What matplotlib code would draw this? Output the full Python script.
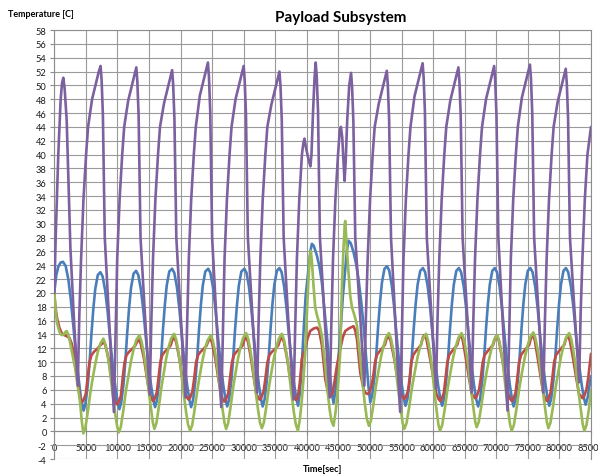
import matplotlib
matplotlib.use("Agg")
import matplotlib.pyplot as plt

# Payload subsystem thermal run: temperatures [C] vs. time [s]
# Each series is stored as (time, value) pairs, one row per orbit.

blue_t = [0, 320, 640, 1000, 1380, 1800, 2220, 2620, 3010, 3400, 3800, 4200, 4640,
          4940, 5290, 5590, 5890, 6190, 6490, 6890, 7300,
          7650, 8050, 8450, 8885, 9300, 9700, 10050, 10310,
          10610, 10960, 11260, 11560, 11860, 12160, 12560, 12950,
          13300, 13700, 14100, 14535, 14950, 15350, 15700, 15960,
          16260, 16610, 16910, 17210, 17510, 17810, 18210, 18660,
          19010, 19410, 19810, 20245, 20660, 21060, 21410, 21670,
          21970, 22320, 22620, 22920, 23220, 23520, 23920, 24370,
          24720, 25120, 25520, 25955, 26370, 26770, 27120, 27380,
          27680, 28030, 28330, 28630, 28930, 29230, 29630, 30100,
          30440, 30830, 31210, 31630, 32030, 32420, 32750, 33000,
          33300, 33650, 33950, 34250, 34550, 34850, 35250, 35660,
          36000, 36390, 36780, 37200, 37610, 38000, 38340, 38600,
          38900, 39200, 39470, 39800, 40260, 40550, 40790, 41100, 41590, 42000,
          42380, 42800, 43180, 43600, 43950, 44220,
          44550, 44900, 45280, 45700, 46080, 46350, 46600, 46950, 47390, 47800,
          48180, 48600, 48980, 49400, 49750, 50040,
          50340, 50690, 50990, 51290, 51590, 51890, 52290, 52700,
          53040, 53430, 53820, 54240, 54640, 55030, 55370, 55620,
          55930, 56300, 56610, 56920, 57230, 57540, 57960, 58380,
          58730, 59130, 59530, 59965, 60380, 60780, 61130, 61420,
          61720, 62070, 62370, 62670, 62970, 63270, 63670, 64080,
          64430, 64830, 65230, 65665, 66080, 66480, 66830, 67120,
          67420, 67770, 68070, 68370, 68670, 68970, 69370, 69760,
          70110, 70510, 70910, 71345, 71760, 72160, 72500, 72740,
          73040, 73390, 73690, 73990, 74290, 74590, 74990, 75400,
          75750, 76150, 76550, 76985, 77400, 77800, 78140, 78390,
          78690, 79040, 79340, 79640, 79940, 80240, 80640, 81030,
          81390, 81810, 82220, 82670, 83100, 83510, 83880, 84150,
          84450, 84800, 85000]
blue_v = [20.1, 22.6, 23.8, 24.4, 24.5, 23.9, 22.0, 19.0, 15.3, 11.5, 8.05, 4.9, 3.0,
          4.0, 6.6, 10.0, 14.2, 17.8, 20.6, 22.6, 23.0,
          22.4, 20.4, 17.3, 12.9, 9.1, 6.2, 4.2, 3.2,
          4.2, 6.8, 10.2, 14.4, 18.0, 20.8, 22.8, 23.2,
          22.6, 20.6, 17.5, 13.2, 9.4, 6.5, 4.5, 3.5,
          4.5, 7.1, 10.5, 14.7, 18.3, 21.1, 23.1, 23.5,
          22.9, 20.9, 17.7, 13.3, 9.5, 6.5, 4.5, 3.5,
          4.5, 7.1, 10.5, 14.7, 18.3, 21.1, 23.1, 23.5,
          22.9, 20.9, 17.7, 13.35, 9.6, 6.6, 4.6, 3.6,
          4.6, 7.2, 10.6, 14.7, 18.3, 21.1, 23.1, 23.5,
          22.9, 20.9, 17.7, 13.35, 9.6, 6.6, 4.6, 3.6,
          4.6, 7.2, 10.6, 14.8, 18.4, 21.2, 23.2, 23.6,
          23.0, 21.0, 17.8, 13.45, 9.7, 6.7, 4.7, 3.7,
          5.6, 9.6, 14.3, 19.5, 23.5, 26.0, 27.1, 26.8, 25.4, 23.8,
          21.5, 17.5, 13.8, 8.8, 5.5, 4.1,
          6.0, 9.5, 13.8, 19.5, 23.5, 26.2, 27.55, 27.2, 25.9, 24.2,
          22.0, 18.8, 15.3, 10.5, 6.5, 4.2,
          5.2, 7.7, 11.1, 15.2, 18.7, 21.5, 23.5, 23.85,
          23.25, 21.2, 18.0, 13.55, 9.75, 6.75, 4.7, 3.7,
          4.7, 7.3, 10.7, 14.8, 18.4, 21.2, 23.2, 23.6,
          23.0, 21.0, 17.8, 13.45, 9.7, 6.7, 4.7, 3.7,
          4.7, 7.3, 10.7, 14.8, 18.4, 21.2, 23.2, 23.6,
          23.0, 21.0, 17.8, 13.4, 9.6, 6.6, 4.6, 3.6,
          4.6, 7.2, 10.6, 14.8, 18.4, 21.2, 23.2, 23.6,
          23.0, 21.0, 17.8, 13.4, 9.6, 6.6, 4.6, 3.6,
          4.6, 7.2, 10.6, 14.8, 18.4, 21.2, 23.2, 23.6,
          23.0, 21.0, 17.8, 13.45, 9.7, 6.7, 4.7, 3.7,
          4.7, 7.3, 10.7, 14.8, 18.4, 21.2, 23.2, 23.6,
          23.0, 21.0, 17.9, 13.5, 9.8, 6.8, 4.8, 3.85,
          4.8, 6.9, 8.0]

red_t = [0, 200, 450, 800, 1170, 1600, 1965, 2400, 2750, 3280, 3800, 4100, 4340,
         4584, 4989, 5265, 5558, 5883, 6287, 6776, 7261, 7586, 7830,
         8133, 8588, 9041, 9420, 9692, 9890,
         10135, 10541, 10818, 11112, 11437, 11843, 12333, 12820, 13145, 13390,
         13715, 14203, 14689, 15096, 15388, 15600,
         15836, 16227, 16493, 16776, 17090, 17480, 17952, 18421, 18734, 18970,
         19304, 19805, 20305, 20722, 21022, 21240,
         21481, 21880, 22152, 22441, 22760, 23160, 23641, 24119, 24439, 24680,
         25006, 25497, 25985, 26394, 26687, 26900,
         27144, 27547, 27822, 28115, 28438, 28842, 29329, 29813, 30136, 30380,
         30690, 31156, 31621, 32009, 32287, 32490,
         32739, 33150, 33431, 33729, 34059, 34471, 34968, 35461, 35792, 36040,
         36374, 36875, 37375, 37792, 38092, 38310,
         38550, 38880, 39213, 39736, 40100, 40528, 41050, 41600, 41950, 42383,
         42906, 43350, 43600, 43800,
         44100, 44450, 44760, 45284, 45700, 46076, 46700, 47392, 47650, 47930,
         48454, 49000, 49350, 49640,
         49868, 50245, 50501, 50774, 51077, 51454, 51909, 52360, 52663, 52890,
         53263, 53825, 54384, 54851, 55186, 55430,
         55652, 56020, 56270, 56536, 56831, 57199, 57643, 58083, 58378, 58600,
         58966, 59516, 60064, 60522, 60851, 61090,
         61318, 61696, 61954, 62228, 62531, 62909, 63365, 63819, 64122, 64350,
         64685, 65189, 65691, 66110, 66411, 66630,
         66870, 67268, 67539, 67827, 68146, 68544, 69024, 69501, 69820, 70060,
         70410, 70936, 71459, 71897, 72212, 72440,
         72672, 73058, 73320, 73599, 73907, 74293, 74757, 75219, 75528, 75760,
         76086, 76577, 77065, 77474, 77767, 77980,
         78213, 78599, 78862, 79142, 79452, 79838, 80304, 80767, 81077, 81310,
         81653, 82167, 82680, 83109, 83416, 83640,
         83878, 84274, 84543, 84829, 85000]
red_v = [19.9, 17.8, 16.3, 15.0, 14.2, 13.9, 13.75, 13.5, 12.7, 10.5, 6.6, 4.8, 4.2,
         4.4, 5.4, 7.6, 9.9, 11.0, 11.5, 11.9, 12.4, 12.7, 13.0,
         12.3, 10.5, 7.6, 5.4, 4.2, 3.9,
         4.1, 5.1, 7.6, 9.9, 11.0, 11.5, 11.9, 12.4, 13.0, 13.3,
         12.6, 10.5, 7.6, 5.4, 4.7, 4.4,
         4.6, 5.6, 7.6, 9.9, 11.0, 11.5, 11.9, 12.4, 13.3, 13.6,
         12.9, 10.5, 7.6, 5.4, 4.9, 4.6,
         4.8, 5.8, 7.6, 9.9, 11.0, 11.5, 11.9, 12.4, 13.15, 13.45,
         12.75, 10.5, 7.6, 5.4, 4.6, 4.3,
         4.5, 5.5, 7.6, 9.9, 11.0, 11.5, 11.9, 12.4, 13.3, 13.6,
         12.9, 10.5, 7.6, 5.4, 4.9, 4.6,
         4.8, 5.8, 7.6, 9.9, 11.0, 11.5, 11.9, 12.4, 13.3, 13.6,
         12.9, 10.5, 7.6, 5.4, 4.8, 4.5,
         4.8, 7.0, 10.5, 11.9, 13.4, 14.5, 14.85, 15.0, 14.5, 12.4,
         7.6, 5.6, 5.2, 5.1,
         5.6, 7.6, 9.5, 11.9, 13.6, 14.5, 14.9, 15.2, 14.6, 13.35,
         8.5, 6.0, 5.5, 5.4,
         5.6, 6.6, 7.9, 9.9, 11.0, 11.5, 12.0, 12.5, 13.5, 13.8,
         13.1, 10.5, 7.6, 5.4, 5.0, 4.7,
         4.9, 5.9, 7.6, 9.9, 11.0, 11.5, 12.0, 12.5, 13.6, 13.9,
         13.2, 10.5, 7.6, 5.4, 4.7, 4.4,
         4.6, 5.6, 7.6, 9.9, 11.0, 11.5, 12.0, 12.5, 13.6, 13.9,
         13.2, 10.5, 7.6, 5.4, 5.1, 4.8,
         5.0, 6.0, 7.6, 9.9, 11.0, 11.5, 12.0, 12.5, 13.5, 13.8,
         13.1, 10.5, 7.6, 5.4, 4.7, 4.4,
         4.6, 5.6, 7.6, 9.9, 11.0, 11.5, 12.0, 12.5, 13.6, 13.9,
         13.2, 10.5, 7.6, 5.4, 4.7, 4.4,
         4.6, 5.6, 7.6, 9.9, 11.0, 11.5, 12.0, 12.5, 13.5, 13.8,
         13.1, 10.5, 7.6, 5.4, 5.1, 4.8,
         5.0, 6.0, 7.6, 9.9, 11.2]

green_t = [0, 200, 450, 800, 1170, 1500, 1800, 1965, 2200, 2490, 2900, 3280, 3700, 4073, 4350, 4600,
           4917, 5313, 5710, 6106, 6502, 6898, 7295, 7770,
           8087, 8404, 8721, 9038, 9355, 9672, 9957, 10210,
           10536, 10944, 11351, 11759, 12166, 12574, 12981, 13470,
           13787, 14104, 14421, 14738, 15055, 15372, 15620, 15850,
           16162, 16552, 16942, 17332, 17722, 18112, 18502, 18970,
           19287, 19604, 19921, 20238, 20555, 20872, 21190, 21510,
           21838, 22248, 22658, 23068, 23478, 23888, 24298, 24790,
           25107, 25424, 25741, 26058, 26375, 26692, 26960, 27210,
           27527, 27923, 28320, 28716, 29112, 29508, 29905, 30380,
           30697, 31014, 31331, 31648, 31965, 32282, 32580, 32870,
           33187, 33583, 33980, 34376, 34772, 35168, 35565, 36040,
           36357, 36674, 36991, 37308, 37625, 37942, 38260, 38580,
           38900, 39200, 39467, 39736, 40006, 40260, 40450, 40640, 40800, 41052,
           41322, 41600, 41845, 42100, 42383, 42800, 43200, 43600, 43900, 44220,
           44550, 44800, 45014, 45284, 45550, 45807, 46000, 46076, 46200, 46440,
           46868, 47150, 47392, 47650, 47931, 48300, 48723, 49150, 49500, 49830,
           50147, 50543, 50940, 51336, 51732, 52128, 52525, 53000,
           53317, 53634, 53951, 54268, 54585, 54902, 55170, 55430,
           55774, 56204, 56634, 57064, 57494, 57924, 58354, 58870,
           59155, 59441, 59726, 60011, 60297, 60582, 60838, 61090,
           61432, 61860, 62287, 62715, 63142, 63570, 63997, 64510,
           64827, 65144, 65461, 65778, 66095, 66412, 66660, 66890,
           67218, 67628, 68038, 68448, 68858, 69268, 69678, 70170,
           70463, 70756, 71050, 71343, 71636, 71929, 72190, 72440,
           72783, 73212, 73641, 74069, 74498, 74927, 75356, 75870,
           76187, 76504, 76821, 77138, 77455, 77772, 78020, 78250,
           78578, 78988, 79398, 79808, 80218, 80628, 81038, 81530,
           81847, 82164, 82481, 82798, 83115, 83432, 83700, 83960,
           84280, 84680, 85000]
green_v = [19.9, 17.6, 15.6, 14.4, 13.9, 14.0, 14.4, 14.5, 14.0, 12.9, 11.0, 9.2, 6.6, 4.3, 1.5, -0.3,
           0.5, 2.85, 5.6, 7.8, 9.8, 11.5, 12.7, 13.4,
           12.6, 11.2, 9.3, 6.9, 4.6, 2.4, 0.7, -0.15,
           0.65, 3.1, 5.9, 8.1, 10.25, 11.9, 13.2, 13.9,
           13.1, 11.7, 9.8, 7.4, 5.1, 2.9, 1.2, 0.35,
           1.15, 3.5, 6.25, 8.45, 10.55, 12.2, 13.4, 14.1,
           13.3, 11.8, 9.9, 7.4, 5.0, 2.75, 0.95, 0.1,
           0.9, 3.3, 6.0, 8.25, 10.3, 12.0, 13.2, 13.9,
           13.1, 11.7, 9.8, 7.4, 5.1, 2.9, 1.2, 0.35,
           1.15, 3.55, 6.3, 8.5, 10.6, 12.25, 13.5, 14.2,
           13.4, 11.95, 10.05, 7.6, 5.25, 3.05, 1.25, 0.45,
           1.25, 3.6, 6.3, 8.5, 10.55, 12.2, 13.4, 14.1,
           13.3, 11.8, 9.9, 7.4, 5.0, 2.75, 0.95, 0.1,
           1.8, 4.5, 7.6, 11.4, 17.2, 22.0, 25.0, 26.1, 24.5, 21.05,
           17.9, 16.8, 16.0, 15.0, 13.8, 10.5, 6.5, 3.2, 1.5, 0.8,
           2.8, 5.0, 7.6, 11.4, 21.0, 26.5, 30.0, 30.4, 28.5, 24.9,
           19.6, 17.9, 17.2, 16.4, 15.3, 11.8, 8.05, 4.2, 1.8, 0.8,
           1.55, 3.9, 6.55, 8.7, 10.7, 12.3, 13.55, 14.2,
           13.4, 11.95, 10.05, 7.55, 5.2, 3.0, 1.2, 0.35,
           1.15, 3.5, 6.25, 8.45, 10.55, 12.2, 13.4, 14.1,
           13.3, 11.8, 9.9, 7.4, 5.0, 2.75, 0.95, 0.1,
           0.9, 3.35, 6.15, 8.4, 10.55, 12.25, 13.5, 14.2,
           13.4, 12.0, 10.1, 7.65, 5.35, 3.2, 1.4, 0.6,
           1.35, 3.65, 6.3, 8.45, 10.45, 12.05, 13.25, 13.9,
           13.1, 11.65, 9.75, 7.3, 4.95, 2.7, 0.95, 0.1,
           0.9, 3.35, 6.2, 8.5, 10.6, 12.3, 13.6, 14.3,
           13.5, 12.05, 10.15, 7.65, 5.3, 3.1, 1.3, 0.45,
           1.25, 3.6, 6.35, 8.55, 10.65, 12.3, 13.5, 14.2,
           13.4, 11.9, 10.0, 7.45, 5.05, 2.8, 0.95, 0.1,
           0.9, 3.3, 6.0]

purple_t = [0, 220, 630, 1010, 1220, 1430, 1640, 1960, 2550, 3150,
            3720, 3960, 4245, 4620, 5035, 5350, 5985, 6525, 7050, 7330, 7490, 7695, 7995, 8710,
            9440, 9680, 9965, 10340, 10755, 11070, 11705, 12245, 12770, 12990, 13150, 13355, 13655, 14370,
            15110, 15350, 15635, 16010, 16425, 16740, 17375, 17915, 18440, 18660, 18820, 19025, 19325, 20040,
            20780, 21020, 21305, 21680, 22095, 22410, 23045, 23585, 24110, 24330, 24490, 24695, 24995, 25710,
            26440, 26680, 26965, 27340, 27755, 28070, 28705, 29245, 29770, 29990, 30150, 30355, 30655, 31370,
            32110, 32350, 32635, 33010, 33425, 33740, 34375, 34915, 35440, 35660, 35820, 36025, 36325, 37040,
            37900, 38140, 38425, 38800, 39215, 39470, 39630, 39860, 40260, 40570, 40730, 40970, 41210,
            41400, 41560, 41765, 42065, 42800,
            43620, 43860, 44145, 44520, 44935, 45200, 45390, 45600, 45840, 45965, 46150, 46390, 46710,
            47000, 47160, 47365, 47665, 48400,
            49110, 49350, 49635, 50010, 50425, 50740, 51375, 51915, 52440, 52660, 52820, 53025, 53325, 54040,
            54780, 55020, 55305, 55680, 56095, 56410, 57045, 57585, 58110, 58330, 58490, 58695, 58995, 59710,
            60450, 60690, 60975, 61350, 61765, 62080, 62715, 63255, 63780, 64000, 64160, 64365, 64665, 65380,
            66110, 66350, 66635, 67010, 67425, 67740, 68375, 68915, 69440, 69660, 69820, 70025, 70325, 71040,
            71780, 72020, 72305, 72680, 73095, 73410, 74045, 74585, 75110, 75330, 75490, 75695, 75995, 76710,
            77450, 77690, 77975, 78350, 78765, 79080, 79715, 80255, 80780, 81000, 81160, 81365, 81665, 82380,
            83120, 83360, 83645, 84020, 84435, 85000]
purple_v = [20.0, 28.0, 40.0, 48.0, 50.3, 51.1, 49.5, 45.0, 26.5, 15.5,
            6.6, 16.6, 25.0, 33.5, 40.0, 44.0, 48.0, 50.0, 52.0, 52.8, 50.8, 45.8, 28.0, 15.4,
            2.8, 12.8, 25.0, 33.5, 40.0, 44.0, 47.8, 49.8, 51.8, 52.6, 50.6, 45.6, 28.0, 16.6,
            5.3, 15.3, 25.0, 33.5, 40.0, 44.0, 47.4, 49.4, 51.4, 52.2, 50.2, 45.2, 28.0, 16.4,
            4.9, 14.9, 25.0, 33.5, 40.0, 44.0, 48.5, 50.5, 52.5, 53.3, 51.3, 46.3, 28.0, 15.7,
            3.5, 13.5, 25.0, 33.5, 40.0, 44.0, 48.0, 50.0, 52.0, 52.8, 50.8, 45.8, 28.0, 16.8,
            5.6, 15.6, 25.0, 33.5, 40.0, 44.0, 47.2, 49.2, 51.2, 52.0, 50.0, 45.0, 28.0, 16.3,
            4.6, 14.6, 25.0, 33.5, 40.0, 41.8, 42.3, 41.0, 39.3, 38.3, 40.0, 46.0, 51.0,
            53.3, 51.3, 46.3, 28.0, 16.5,
            4.9, 14.9, 25.0, 33.5, 40.0, 43.3, 44.0, 42.5, 38.5, 36.2, 39.0, 45.0, 50.0,
            51.8, 49.8, 44.8, 28.0, 17.3,
            6.6, 16.6, 25.0, 33.5, 40.0, 44.0, 47.3, 49.3, 51.3, 52.1, 50.1, 45.1, 28.0, 15.4,
            2.8, 12.8, 25.0, 33.5, 40.0, 44.0, 48.4, 50.4, 52.4, 53.2, 51.2, 46.2, 28.0, 17.0,
            6.1, 16.1, 25.0, 33.5, 40.0, 44.0, 47.8, 49.8, 51.8, 52.6, 50.6, 45.6, 28.0, 16.8,
            5.6, 15.6, 25.0, 33.5, 40.0, 44.0, 48.0, 50.0, 52.0, 52.8, 50.8, 45.8, 28.0, 15.5,
            3.0, 13.0, 25.0, 33.5, 40.0, 44.0, 48.2, 50.2, 52.2, 53.0, 51.0, 46.0, 28.0, 16.8,
            5.6, 15.6, 25.0, 33.5, 40.0, 44.0, 47.6, 49.6, 51.6, 52.4, 50.4, 45.4, 28.0, 17.5,
            7.1, 17.1, 25.0, 33.5, 40.0, 44.0]

x_ticks = list(range(0, 85001, 5000))
y_ticks = list(range(-4, 59, 2))

plt.rcParams['font.family'] = ['Lato', 'DejaVu Sans']

fig = plt.figure(figsize=(5.98, 4.77), dpi=100)
ax = fig.add_axes([0.0908, 0.0356, 0.8975, 0.8994])

# same drawing order as the spreadsheet: blue, red, green, purple on top
series = [
    (blue_t, blue_v, '#4A7EBB'),
    (red_t, red_v, '#BE4B48'),
    (green_t, green_v, '#98B954'),
    (purple_t, purple_v, '#7D60A0'),
]
for i, (t, v, col) in enumerate(series):
    ax.plot(t, v, color=col, lw=1.9, solid_joinstyle='round',
            solid_capstyle='round', zorder=3 + i)

ax.set_xlim(0, 85000)
ax.set_ylim(-4, 58)
ax.set_xticks(x_ticks)
ax.set_xticklabels([str(x) for x in x_ticks])
ax.set_yticks(y_ticks)
ax.set_yticklabels([str(y) for y in y_ticks])

ax.grid(True, color='#9a9a9a', lw=0.8)
ax.set_axisbelow(True)

# horizontal axis crosses at 0 C, labels hang below it
ax.spines['bottom'].set_position(('data', 0))
for side in ['left', 'bottom', 'top', 'right']:
    ax.spines[side].set_color('#8c8c8c')
    ax.spines[side].set_linewidth(0.8)

ax.tick_params(axis='both', colors='#8c8c8c', labelcolor='#1a1a1a',
               labelsize=6.7, length=3, width=0.8)
ax.tick_params(axis='x', pad=5.6)
ax.tick_params(axis='y', pad=2.5)

fig.text(340.5 / 598, 1 - 21.7 / 477, 'Payload Subsystem', ha='center',
         va='baseline', fontsize=11, fontweight='bold')
fig.text(8.3 / 598, 1 - 14.3 / 477, 'Temperature [C]', ha='left',
         va='center', fontsize=6.5, fontweight='bold')
fig.text(322.6 / 598, 1 - 470 / 477, 'Time[sec]', ha='center',
         va='center', fontsize=6.6, fontweight='bold')

fig.savefig('out.png', dpi=100)
